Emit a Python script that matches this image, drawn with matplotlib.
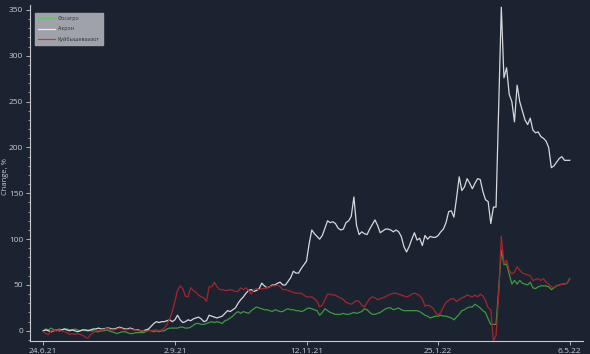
import matplotlib
matplotlib.use("Agg")
import matplotlib.pyplot as plt
from matplotlib.ticker import MultipleLocator

plt.rcParams["font.family"] = ["Open Sans", "DejaVu Sans"]
plt.rcParams["font.size"] = 6

# trading-day index -> label
tick_pos = [0, 50, 100, 150, 200]
tick_labels = ["24.6.21", "2.9.21", "12.11.21", "25.1.22", "6.5.22"]

phosagro = [
    0, 2, 1, 3, 1, 0, 2, 1, 2, 2, 1, 1, 2, 1, 0, 1, 0, 1, 0, 0,
    -1, -1, 0, 0, 1, 0, -1, -2, -3, -2, -1, -1, -2, -3, -3, -2, -2, -2, -2, -1,
    1, 0, -1, 0, -1, 0, 0, 2, 3, 3, 3, 3, 4, 4, 3, 3, 4, 6, 8, 8,
    7, 7, 8, 9, 10, 9, 10, 9, 8, 11, 12, 14, 16, 19, 21, 19, 21, 20, 19, 22,
    24, 26, 25, 24, 23, 23, 22, 21, 23, 22, 21, 21, 23, 24, 23, 23, 22, 22, 21, 22,
    24, 25, 24, 23, 22, 17, 20, 24, 22, 20, 19, 18, 18, 18, 19, 18, 18, 19, 20, 19,
    20, 21, 24, 23, 20, 18, 18, 19, 20, 22, 24, 25, 25, 23, 24, 25, 23, 22, 22, 22,
    22, 22, 22, 21, 19, 17, 16, 14, 15, 16, 16, 17, 16, 16, 15, 14, 12, 15, 18, 22,
    23, 25, 26, 26, 29, 27, 25, 22, 20, 13, 7, 7, 7, 45, 88, 72, 73, 62, 51, 55,
    51, 55, 52, 51, 50, 53, 47, 46, 48, 49, 49, 49, 48, 45, 47, 49, 50, 51, 51, 52,
    57,
]

acron = [
    0, 1, 0, -1, 0, 1, 0, 1, 2, 1, 0, 1, 0, -1, 0, 1, 1, 0, 1, 2,
    2, 3, 2, 2, 3, 3, 2, 2, 3, 4, 3, 2, 2, 3, 2, 1, 1, 0, 0, 1,
    2, 5, 8, 10, 9, 10, 10, 11, 12, 10, 12, 17, 12, 9, 10, 12, 11, 13, 14, 15,
    13, 10, 11, 17, 16, 15, 14, 15, 16, 19, 22, 21, 23, 25, 30, 34, 37, 41, 44, 45,
    43, 44, 46, 52, 49, 47, 48, 50, 50, 52, 53, 50, 50, 54, 58, 65, 63, 63, 68, 72,
    76, 95, 110, 106, 103, 100, 104, 112, 120, 118, 119, 117, 112, 110, 111, 118, 120, 125, 146, 115,
    105, 108, 106, 105, 111, 116, 121, 115, 107, 109, 111, 111, 110, 108, 110, 108, 103, 92, 86, 92,
    100, 107, 99, 101, 93, 104, 100, 103, 102, 102, 104, 108, 111, 118, 130, 131, 124, 145, 168, 153,
    157, 166, 161, 155, 161, 166, 165, 152, 143, 141, 117, 135, 135, 245, 353, 276, 287, 258, 250, 228,
    268, 250, 240, 230, 225, 232, 219, 216, 217, 212, 210, 207, 200, 178, 180, 184, 188, 190, 186, 186,
    186,
]

kuibyshev = [
    -1, -3, -4, 0, 0, 1, 0, 0, -1, -2, -4, -3, -4, -3, -4, -5, -7, -8, -4, -2,
    0, 0, 1, 1, 3, 2, 1, 1, 2, 3, 2, 1, 1, 2, 1, 1, 0, 0, 0, -1,
    0, 0, 1, 1, 0, 1, 3, 7, 13, 21, 32, 44, 49, 46, 38, 37, 47, 44, 42, 39,
    37, 36, 32, 48, 48, 53, 48, 45, 45, 44, 44, 45, 44, 43, 43, 47, 45, 47, 44, 40,
    45, 46, 45, 46, 46, 47, 48, 49, 49, 50, 48, 45, 45, 44, 43, 42, 41, 41, 41, 39,
    37, 37, 37, 35, 32, 26, 28, 34, 40, 40, 39, 39, 37, 36, 34, 31, 30, 29, 31, 33,
    32, 28, 26, 31, 35, 37, 36, 34, 35, 36, 37, 39, 40, 41, 41, 40, 39, 38, 37, 38,
    40, 41, 40, 38, 35, 27, 28, 27, 25, 20, 17, 20, 26, 31, 33, 35, 35, 32, 34, 36,
    37, 39, 38, 37, 39, 37, 40, 38, 33, 25, 23, -11, -5, 40, 103, 73, 77, 66, 62, 64,
    70, 66, 63, 62, 61, 60, 55, 56, 57, 55, 57, 53, 51, 48, 47, 49, 50, 51, 51, 52,
    57,
]

bg = "#1b2330"
fg = "#c9cbd0"

fig = plt.figure(figsize=(5.9, 3.54), dpi=100, facecolor=bg)
ax = fig.add_axes([0.051, 0.037, 0.937, 0.949], facecolor=bg)

x = list(range(len(acron)))
ax.plot(x, phosagro, color="#3d9a3d", lw=0.9, label="Фосагро")
ax.plot(x, acron, color="#d6d8dc", lw=0.9, label="Акрон")
ax.plot(x, kuibyshev, color="#a8242c", lw=0.9, label="Куйбышеваазот")

ax.set_xlim(-5, 205)
ax.set_ylim(-11, 355.5)
ax.set_xticks(tick_pos)
ax.set_xticklabels(tick_labels)
ax.yaxis.set_major_locator(MultipleLocator(50))
ax.yaxis.set_minor_locator(MultipleLocator(10))
ax.set_ylabel("Change, %", color=fg, fontsize=5.5)
ax.yaxis.set_label_coords(-0.039, 0.49)

for s in ["top", "right"]:
    ax.spines[s].set_visible(False)
for s in ["left", "bottom"]:
    ax.spines[s].set_color(fg)
    ax.spines[s].set_linewidth(0.8)
ax.tick_params(colors=fg, labelsize=6, length=3, width=0.6, pad=2)
ax.tick_params(which="minor", colors=fg, length=1.5, width=0.5)

leg = ax.legend(loc="upper left", fontsize=3.9, frameon=True, fancybox=False,
                facecolor="#9fa3a9", edgecolor="#9fa3a9", framealpha=1,
                handlelength=3, handletextpad=0.6, borderpad=0.6,
                labelspacing=0.95, borderaxespad=0,
                bbox_to_anchor=(0.009, 0.976))
for t in leg.get_texts():
    t.set_color("#2a2e36")
leg.get_lines()[0].set_color("#5fc35f")
leg.get_lines()[1].set_color("#e8e8e8")
leg.get_lines()[2].set_color("#c23a40")

fig.savefig("out.png", dpi=100, facecolor=bg)
